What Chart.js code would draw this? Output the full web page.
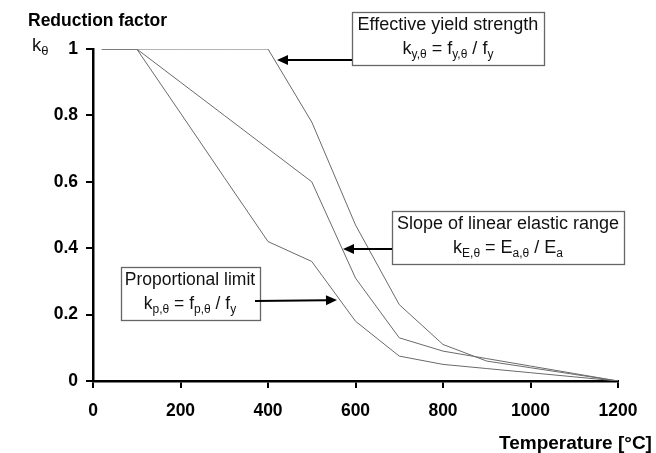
<!DOCTYPE html>
<html>
<head>
<meta charset="utf-8">
<script src="https://cdn.jsdelivr.net/npm/chart.js@4"></script>
<style>
html,body{margin:0;padding:0;background:#fff;}
#wrap{width:656px;height:453px;position:relative;}
</style>
</head>
<body>
<div id="wrap"><canvas id="c" width="656" height="453"></canvas></div>
<script>
// Temperatures (°C)
const temperatures = [20, 100, 200, 300, 400, 500, 600, 700, 800, 900, 1000, 1100, 1200];
// Effective yield strength k_y,θ
const kYield = [1, 1, 1, 1, 1, 0.78, 0.47, 0.23, 0.11, 0.06, 0.04, 0.02, 0];
// Slope of linear elastic range k_E,θ
const kElastic = [1, 1, 0.9, 0.8, 0.7, 0.6, 0.31, 0.13, 0.09, 0.0675, 0.045, 0.0225, 0];
// Proportional limit k_p,θ
const kProp = [1, 1, 0.807, 0.613, 0.42, 0.36, 0.18, 0.075, 0.05, 0.0375, 0.025, 0.0125, 0];

const xTicks = [0, 200, 400, 600, 800, 1000, 1200];
const yTicks = [0, 0.2, 0.4, 0.6, 0.8, 1];

const FONT = '"Liberation Sans", Arial, sans-serif';

function toPts(vals){ return temperatures.map((t,i)=>({x:t,y:vals[i]})); }

function drawRich(ctx, parts, cx, cy, size, align){
  const subSize = Math.round(size*0.68);
  let w = 0;
  parts.forEach(p=>{
    ctx.font = (p.sub? subSize : size) + 'px ' + FONT;
    p.w = ctx.measureText(p.t).width; w += p.w;
  });
  let x = align === 'left' ? cx : cx - w/2;
  ctx.textBaseline = 'middle';
  ctx.textAlign = 'left';
  parts.forEach(p=>{
    ctx.font = (p.sub? subSize : size) + 'px ' + FONT;
    ctx.fillText(p.t, x, p.sub ? cy + size*0.3 : cy);
    x += p.w;
  });
}

function arrow(ctx, x1, y1, x2, y2){
  ctx.save();
  ctx.strokeStyle = '#000'; ctx.fillStyle = '#000'; ctx.lineWidth = 2;
  const a = Math.atan2(y2-y1, x2-x1);
  const L = 11, W = 5;
  const bx = x2 - L*Math.cos(a), by = y2 - L*Math.sin(a);
  ctx.beginPath(); ctx.moveTo(x1,y1); ctx.lineTo(bx,by); ctx.stroke();
  ctx.beginPath();
  ctx.moveTo(x2,y2);
  ctx.lineTo(bx + W*Math.sin(a), by - W*Math.cos(a));
  ctx.lineTo(bx - W*Math.sin(a), by + W*Math.cos(a));
  ctx.closePath(); ctx.fill();
  ctx.restore();
}

function box(ctx, x, y, w, h){
  ctx.save();
  ctx.strokeStyle = '#666'; ctx.lineWidth = 1.3;
  ctx.fillStyle = '#fff';
  ctx.fillRect(x,y,w,h);
  ctx.strokeRect(x+0.5,y+0.5,w,h);
  ctx.restore();
}

const annotations = {
  id: 'annotations',
  afterDraw(chart){
    const ctx = chart.ctx;
    ctx.save();
    ctx.fillStyle = '#000';
    // Titles
    ctx.textAlign = 'left'; ctx.textBaseline = 'alphabetic';
    ctx.font = 'bold 17.5px ' + FONT;
    ctx.fillText('Reduction factor', 28, 26);
    ctx.font = 'bold 19px ' + FONT;
    ctx.fillText('Temperature [°C]', 499, 449);
    ctx.fillStyle = '#111';
    drawRich(ctx, [{t:'k'},{t:'θ',sub:true}], 32, 46, 18.5, 'left');

    // Box 1
    box(ctx, 352, 12, 192, 53);
    ctx.fillStyle = '#111';
    ctx.font = '18px ' + FONT; ctx.textAlign='center'; ctx.textBaseline='middle';
    ctx.fillText('Effective yield strength', 448, 25);
    drawRich(ctx, [{t:'k'},{t:'y,θ',sub:true},{t:' = f'},{t:'y,θ',sub:true},{t:' / f'},{t:'y',sub:true}], 448, 49, 18);
    arrow(ctx, 352, 60, 277, 60);

    // Box 2
    box(ctx, 392, 211, 232, 53);
    ctx.fillStyle = '#111';
    ctx.font = '18px ' + FONT; ctx.textAlign='center'; ctx.textBaseline='middle';
    ctx.fillText('Slope of linear elastic range', 508, 224);
    drawRich(ctx, [{t:'k'},{t:'E,θ',sub:true},{t:' = E'},{t:'a,θ',sub:true},{t:' / E'},{t:'a',sub:true}], 508, 248, 18);
    arrow(ctx, 392, 249, 343, 249);

    // Box 3
    box(ctx, 121, 267, 139, 53);
    ctx.fillStyle = '#111';
    ctx.font = '17.5px ' + FONT; ctx.textAlign='center'; ctx.textBaseline='middle';
    ctx.fillText('Proportional limit', 190, 280);
    drawRich(ctx, [{t:'k'},{t:'p,θ',sub:true},{t:' = f'},{t:'p,θ',sub:true},{t:' / f'},{t:'y',sub:true}], 190, 304, 17.5);
    arrow(ctx, 255, 301, 337, 300);
    ctx.restore();
  }
};

const lineStyle = {borderColor:'#6a6a6a', borderWidth:1, pointRadius:0, tension:0, fill:false};

new Chart(document.getElementById('c'), {
  type: 'line',
  data: {
    datasets: [
      Object.assign({label:'k_y', data: toPts(kYield)}, lineStyle),
      Object.assign({label:'k_E', data: toPts(kElastic)}, lineStyle),
      Object.assign({label:'k_p', data: toPts(kProp)}, lineStyle)
    ]
  },
  options: {
    responsive: false,
    animation: false,
    devicePixelRatio: 1,
    layout: {padding: {left: 0, right: 38, top: 49, bottom: 0}},
    plugins: {legend:{display:false}, tooltip:{enabled:false}},
    scales: {
      x: {
        type: 'linear', min: 0, max: 1200,
        afterBuildTicks(s){ s.ticks = xTicks.map(v=>({value:v})); },
        afterFit(s){ s.height = 72; s.paddingLeft = 0; s.paddingRight = 0; },
        grid: {display:true, drawOnChartArea:false, drawTicks:true, tickLength:7, color:'#000', lineWidth:2},
        border: {display:true, color:'#000', width:2.5},
        ticks: {color:'#000', font:{family:FONT, size:17.5, weight:'bold'}, padding:13, maxRotation:0, autoSkip:false,
          callback: v => String(v)}
      },
      y: {
        type: 'linear', min: 0, max: 1,
        afterBuildTicks(s){ s.ticks = yTicks.map(v=>({value:v})); },
        afterFit(s){ s.width = 93; },
        grid: {display:true, drawOnChartArea:false, drawTicks:true, tickLength:7, color:'#000', lineWidth:2},
        border: {display:true, color:'#000', width:2.5},
        ticks: {color:'#000', font:{family:FONT, size:17.5, weight:'bold'}, padding:8,
          callback: v => String(Math.round(v*10)/10)}
      }
    }
  },
  plugins: [annotations]
});
</script>
</body>
</html>
